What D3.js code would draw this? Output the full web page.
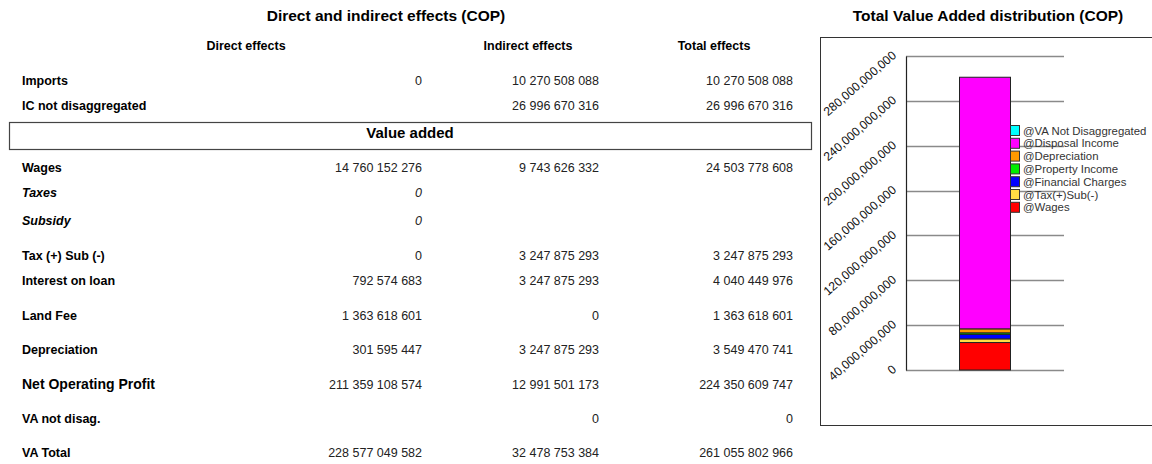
<!DOCTYPE html>
<html>
<head>
<meta charset="utf-8">
<script src="https://cdn.jsdelivr.net/npm/d3@7"></script>
<style>
  html, body { margin: 0; padding: 0; background: #fff; }
  svg { display: block; font-family: "Liberation Sans", Arial, sans-serif; }
</style>
</head>
<body>
<svg id="chart" width="1152" height="464"></svg>
<script>
// ---------- DATA ----------
const tableTitle = "Direct and indirect effects (COP)";
const columnHeaders = ["Direct effects", "Indirect effects", "Total effects"];
const topRowLabels = ["Imports", "IC not disaggregated"];
const topDirect   = [0, null];
const topIndirect = [10270508088, 26996670316];
const topTotal    = [10270508088, 26996670316];

const sectionLabel = "Value added";
const vaRowLabels = ["Wages", "Taxes", "Subsidy", "Tax (+) Sub (-)", "Interest on loan", "Land Fee",
                     "Depreciation", "Net Operating Profit", "VA not disag.", "VA Total"];
const vaDirect   = [14760152276, 0, 0, 0, 792574683, 1363618601, 301595447, 211359108574, null, 228577049582];
const vaIndirect = [9743626332, null, null, 3247875293, 3247875293, 0, 3247875293, 12991501173, 0, 32478753384];
const vaTotal    = [24503778608, null, null, 3247875293, 4040449976, 1363618601, 3549470741, 224350609747, 0, 261055802966];
const italicRows = ["Taxes", "Subsidy"];

const chartTitle = "Total Value Added distribution (COP)";
const barCategory = ["COP"];
const seriesNames  = ["@Wages", "@Tax(+)Sub(-)", "@Financial Charges", "@Property Income",
                      "@Depreciation", "@Disposal Income", "@VA Not Disaggregated"];
const seriesValues = [24503778608, 3247875293, 4040449976, 1363618601, 3549470741, 224350609747, 0];
const seriesColors = ["#ff0000", "#ffdd44", "#0000ff", "#00ee00", "#ff9900", "#ff00ff", "#00ffff"];
const yTicks = [0, 40e9, 80e9, 120e9, 160e9, 200e9, 240e9, 280e9];

// ---------- HELPERS ----------
const svg = d3.select("#chart");
const fmtSpace = v => d3.format(",")(v).replace(/,/g, " ");

// ---------- TABLE ----------
svg.append("text").attr("x", 386).attr("y", 16).attr("dy", "0.35em")
  .attr("text-anchor", "middle").attr("font-weight", "bold").attr("font-size", 15.5)
  .text(tableTitle);

const headerX = [246, 528, 714];
svg.selectAll("text.colhead").data(columnHeaders).join("text").attr("class", "colhead")
  .attr("x", (d, i) => headerX[i]).attr("y", 46).attr("dy", "0.35em")
  .attr("text-anchor", "middle").attr("font-weight", "bold").attr("font-size", 12.5)
  .text(d => d);

const valueRight = [422, 599, 793];
const labelX = 22;

function drawRows(labels, cols, ys, cls) {
  const g = svg.append("g").attr("class", cls);
  labels.forEach((lab, i) => {
    const big = lab === "Net Operating Profit";
    const ital = italicRows.includes(lab);
    g.append("text").attr("x", labelX).attr("y", ys[i]).attr("dy", "0.35em")
      .attr("font-weight", "bold").attr("font-size", big ? 14 : 12.5)
      .attr("font-style", ital ? "italic" : "normal").attr("fill", "#000")
      .text(lab);
    cols.forEach((col, c) => {
      const v = col[i];
      if (v === null || v === undefined) return;
      g.append("text").attr("x", valueRight[c]).attr("y", ys[i]).attr("dy", "0.35em")
        .attr("text-anchor", "end").attr("font-size", 12.5)
        .attr("font-style", ital ? "italic" : "normal").attr("fill", "#222")
        .text(fmtSpace(v));
    });
  });
}

drawRows(topRowLabels, [topDirect, topIndirect, topTotal], [80.5, 105.5], "toprows");

svg.append("rect").attr("x", 9.5).attr("y", 122.5).attr("width", 802).attr("height", 27)
  .attr("fill", "none").attr("stroke", "#444").attr("stroke-width", 1.2);
svg.append("text").attr("x", 410).attr("y", 133).attr("dy", "0.35em")
  .attr("text-anchor", "middle").attr("font-weight", "bold").attr("font-size", 15)
  .text(sectionLabel);

drawRows(vaRowLabels, [vaDirect, vaIndirect, vaTotal],
  [167.5, 192.5, 220.5, 255.5, 280.5, 315.5, 349.5, 384.5, 418.5, 452.5], "varows");

// ---------- CHART ----------
svg.append("text").attr("x", 988).attr("y", 16).attr("dy", "0.35em")
  .attr("text-anchor", "middle").attr("font-weight", "bold").attr("font-size", 15.5)
  .text(chartTitle);

svg.append("rect").attr("x", 820.5).attr("y", 37.5).attr("width", 345).attr("height", 388)
  .attr("fill", "#fff").attr("stroke", "#333").attr("stroke-width", 1);

const y = d3.scaleLinear().domain([0, 280e9]).range([370, 56]);
const x = d3.scaleBand().domain(barCategory).range([906, 1064]).paddingInner(0.512).paddingOuter(0.512);

// gridlines
svg.append("g").selectAll("line").data(yTicks).join("line")
  .attr("x1", 906).attr("x2", 1064)
  .attr("y1", d => Math.round(y(d)) + 0.5).attr("y2", d => Math.round(y(d)) + 0.5)
  .attr("stroke", "#8a8a8a").attr("stroke-width", 1.3);

// axis
const axis = d3.axisLeft(y).tickValues(yTicks).tickSize(0).tickPadding(8).tickFormat(d3.format(","));
const ag = svg.append("g").attr("transform", "translate(906,0)").call(axis);
ag.select(".domain").attr("stroke", "#222").attr("stroke-width", 1.2);
ag.selectAll(".tick text")
  .attr("font-family", "'Liberation Sans', Arial, sans-serif")
  .attr("font-size", 12.2).attr("fill", "#111")
  .attr("text-anchor", "end")
  .attr("x", null).attr("dy", null)
  .attr("transform", "translate(-9,0) rotate(-41)");

// stacked bar
const row = { cat: barCategory[0] };
seriesNames.forEach((n, i) => row[n] = seriesValues[i]);
const stacked = d3.stack().keys(seriesNames)([row]);
svg.append("g").selectAll("rect").data(stacked).join("rect")
  .attr("x", x(barCategory[0])).attr("width", x.bandwidth())
  .attr("y", d => y(d[0][1])).attr("height", d => y(d[0][0]) - y(d[0][1]))
  .attr("fill", (d, i) => seriesColors[i])
  .attr("stroke", "#222").attr("stroke-width", 1);

// legend (reverse order, top to bottom)
const legendItems = seriesNames.map((n, i) => ({ name: n, color: seriesColors[i] })).reverse();
const lg = svg.append("g").attr("transform", "translate(1010,125)");
const li = lg.selectAll("g").data(legendItems).join("g")
  .attr("transform", (d, i) => `translate(0,${i * 12.8})`);
li.append("rect").attr("x", 0.5).attr("y", 0.5).attr("width", 9).attr("height", 10)
  .attr("fill", d => d.color).attr("stroke", "#333").attr("stroke-width", 1);
li.append("text").attr("x", 13).attr("y", 5.5).attr("dy", "0.35em")
  .attr("font-size", 11.4).attr("fill", "#333").text(d => d.name);
</script>
</body>
</html>
